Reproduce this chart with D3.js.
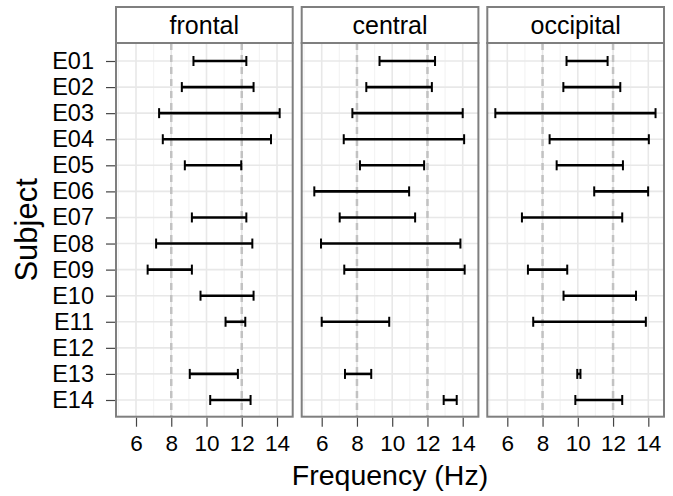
<!DOCTYPE html>
<html>
<head>
<meta charset="utf-8">
<script src="https://cdn.jsdelivr.net/npm/d3@7"></script>
<style>
  body { margin: 0; background: #fff; }
  text { font-family: "Liberation Sans", Arial, sans-serif; }
</style>
</head>
<body>
<svg id="chart" width="673" height="496"></svg>
<script>
const subjects = ["E01", "E02", "E03", "E04", "E05", "E06", "E07", "E08", "E09", "E10", "E11", "E12", "E13", "E14"];
const regions = ["frontal", "central", "occipital"];

const frontalLow = [9.26, 8.60, 7.31, 7.52, 8.77, null, 9.17, 7.14, 6.66, 9.66, 11.08, null, 9.05, 10.21];
const frontalHigh = [12.26, 12.67, 14.15, 13.66, 11.97, null, 12.26, 12.60, 9.17, 12.67, 12.20, null, 11.78, 12.50];
const centralLow = [9.28, 8.53, 7.74, 7.25, 8.17, 5.58, 7.02, 5.96, 7.28, null, 6.00, null, 7.32, 12.92];
const centralHigh = [12.43, 12.25, 14.00, 14.08, 11.81, 10.96, 11.30, 13.87, 14.11, null, 9.83, null, 8.81, 13.66];
const occipitalLow = [9.36, 9.18, 5.32, 8.40, 8.80, 10.93, 6.83, null, 7.17, 9.19, 7.47, null, 9.97, 9.86];
const occipitalHigh = [11.69, 12.41, 14.41, 14.03, 12.56, 13.99, 12.52, null, 9.40, 13.30, 13.86, null, 10.15, 12.52];

const xTicks = [6, 8, 10, 12, 14];
const xMinor = [5, 7, 9, 11, 13];
const refLines = [8, 12];

const lows = { frontal: frontalLow, central: centralLow, occipital: occipitalLow };
const highs = { frontal: frontalHigh, central: centralHigh, occipital: occipitalHigh };

const svg = d3.select("#chart");

const panelLeft = [116, 301.7, 487.3],
  panelW = 176.7,
  stripTop = 7,
  panelTop = 43,
  panelBottom = 416.7;

const y = d3.scalePoint().domain(subjects).range([61, 400]);

regions.forEach((reg, i) => {
  const x0 = panelLeft[i];
  const x = d3.scaleLinear().domain([4.865, 14.89]).range([x0, x0 + panelW]);
  const g = svg.append("g");

  // grid
  g.selectAll(".minor").data(xMinor).enter().append("line")
    .attr("x1", d => x(d)).attr("x2", d => x(d))
    .attr("y1", panelTop).attr("y2", panelBottom)
    .attr("stroke", "#f4f4f4").attr("stroke-width", 1.2);
  g.selectAll(".major").data(xTicks).enter().append("line")
    .attr("x1", d => x(d)).attr("x2", d => x(d))
    .attr("y1", panelTop).attr("y2", panelBottom)
    .attr("stroke", "#e8e8e8").attr("stroke-width", 1.6);
  g.selectAll(".hgrid").data(subjects).enter().append("line")
    .attr("x1", x0).attr("x2", x0 + panelW)
    .attr("y1", d => y(d)).attr("y2", d => y(d))
    .attr("stroke", "#e8e8e8").attr("stroke-width", 1.6);

  // dashed reference lines
  g.selectAll(".ref").data(refLines).enter().append("line")
    .attr("x1", d => x(d)).attr("x2", d => x(d))
    .attr("y1", panelTop).attr("y2", panelBottom)
    .attr("stroke", "#c2c2c2").attr("stroke-width", 2.5)
    .attr("stroke-dasharray", "7,5");

  // error bars
  const rows = subjects.map((s, j) => ({ s, lo: lows[reg][j], hi: highs[reg][j] }))
    .filter(d => d.lo != null);
  const capH = 5;
  const bars = g.selectAll(".bar").data(rows).enter().append("g")
    .attr("stroke", "#000").attr("stroke-width", 2.6);
  bars.append("line")
    .attr("x1", d => x(d.lo)).attr("x2", d => x(d.hi))
    .attr("y1", d => y(d.s)).attr("y2", d => y(d.s));
  bars.append("line")
    .attr("x1", d => x(d.lo)).attr("x2", d => x(d.lo))
    .attr("y1", d => y(d.s) - capH).attr("y2", d => y(d.s) + capH)
    .attr("stroke-width", 2);
  bars.append("line")
    .attr("x1", d => x(d.hi)).attr("x2", d => x(d.hi))
    .attr("y1", d => y(d.s) - capH).attr("y2", d => y(d.s) + capH)
    .attr("stroke-width", 2);

  // panel border
  g.append("rect")
    .attr("x", x0).attr("y", panelTop)
    .attr("width", panelW).attr("height", panelBottom - panelTop)
    .attr("fill", "none").attr("stroke", "#7f7f7f").attr("stroke-width", 2);

  // strip
  g.append("rect")
    .attr("x", x0).attr("y", stripTop)
    .attr("width", panelW).attr("height", panelTop - stripTop)
    .attr("fill", "#fff").attr("stroke", "#7f7f7f").attr("stroke-width", 2);
  g.append("text")
    .attr("x", x0 + panelW / 2).attr("y", (stripTop + panelTop) / 2 + 8.5)
    .attr("text-anchor", "middle").attr("font-size", 25)
    .text(reg);

  // x axis
  const xAxis = d3.axisBottom(x).tickValues(xTicks).tickSize(9).tickPadding(8);
  const ax = g.append("g").attr("transform", `translate(0,${panelBottom + 1})`).call(xAxis);
  ax.select(".domain").remove();
  ax.selectAll(".tick line").attr("stroke", "#444").attr("stroke-width", 1.2);
  ax.selectAll(".tick text").attr("font-size", 22.5).attr("fill", "#000")
    .attr("font-family", "Liberation Sans, Arial, sans-serif");
});

// y axis
const yAxis = d3.axisLeft(y).tickSize(9).tickPadding(12);
const ay = svg.append("g").attr("transform", `translate(${panelLeft[0] - 1},0)`).call(yAxis);
ay.select(".domain").remove();
ay.selectAll(".tick line").attr("stroke", "#444").attr("stroke-width", 1.2);
ay.selectAll(".tick text").attr("font-size", 23.5).attr("fill", "#000")
  .attr("font-family", "Liberation Sans, Arial, sans-serif");

// axis titles
svg.append("text")
  .attr("x", (panelLeft[0] + panelLeft[2] + panelW) / 2).attr("y", 485)
  .attr("text-anchor", "middle").attr("font-size", 28.5)
  .text("Frequency (Hz)");
svg.append("text")
  .attr("transform", `translate(37,${(panelTop + panelBottom) / 2}) rotate(-90)`)
  .attr("text-anchor", "middle").attr("font-size", 31)
  .text("Subject");
</script>
</body>
</html>
